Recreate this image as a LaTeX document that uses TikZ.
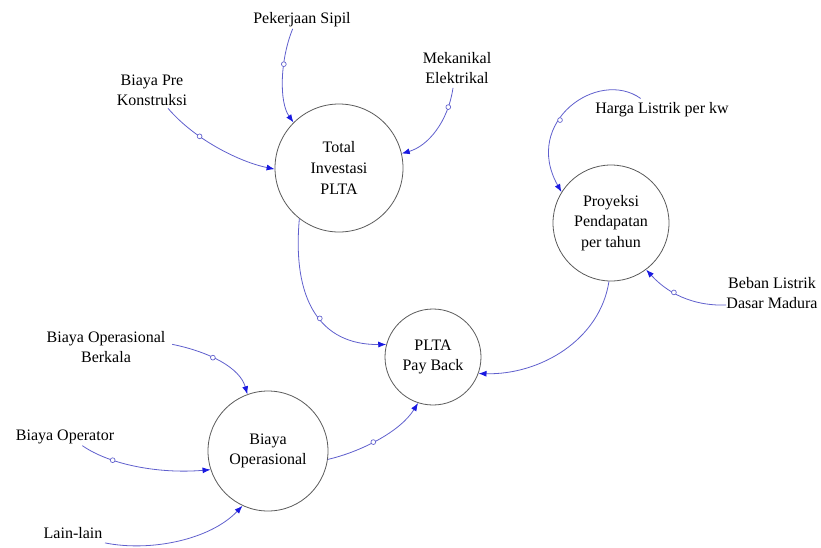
\documentclass[tikz,border=0pt]{standalone}
\usepackage{fontspec}
\setmainfont{Liberation Serif}
\usetikzlibrary{arrows.meta}
\definecolor{lineblue}{RGB}{95,95,205}
\definecolor{tipblue}{RGB}{25,25,225}
\definecolor{ringgray}{RGB}{90,90,90}
\tikzset{
  lbl/.style={align=center,inner sep=0pt,font=\fontsize{12}{15}\selectfont},
  stock/.style={circle,draw=ringgray,line width=0.6pt,inner sep=0pt,align=center,font=\fontsize{12}{15.5}\selectfont},
  link/.style={draw=lineblue,line width=0.6pt,-{Latex[length=6pt,width=4.5pt,color=tipblue]}},
  valve/.style={circle,draw=lineblue,fill=white,line width=0.5pt,inner sep=0pt,minimum size=3.6pt}
}
\begin{document}
\begin{tikzpicture}[x=0.75pt,y=-0.75pt]
\useasboundingbox (0,0) rectangle (821,547);
% stocks
\node[stock,minimum size=96pt] (tot) at (339,168) {Total\\Investasi\\PLTA};
\node[stock,minimum size=87pt] (pro) at (611,223) {Proyeksi\\Pendapatan\\per tahun};
\node[stock,minimum size=72pt] (pb) at (433,357) {PLTA\\Pay Back};
\node[stock,minimum size=90pt] (bo) at (268,451) {Biaya\\Operasional};
% labels
\node[lbl] (pek) at (302,20) {Pekerjaan Sipil};
\node[lbl] (pre) at (152,90) {Biaya Pre\\Konstruksi};
\node[lbl] (mek) at (457,68) {Mekanikal\\Elektrikal};
\node[lbl] (har) at (662,110) {Harga Listrik per kw};
\node[lbl] (beb) at (772,293) {Beban Listrik\\Dasar Madura};
\node[lbl] (bob) at (106,347) {Biaya Operasional\\Berkala};
\node[lbl] (bop) at (65,437) {Biaya Operator};
\node[lbl] (lai) at (73,533) {Lain-lain};
% connectors
\draw[link] ([xshift=-7pt,yshift=-1pt]pek.south) .. controls (280,60) and (279,102) .. node[valve,pos=0.35]{} (tot.135);
\draw[link] ([xshift=12pt,yshift=-2pt]pre.south) .. controls (195,140) and (240,162) .. node[valve,pos=0.33]{} (tot.181);
\draw[link] ([xshift=-3pt,yshift=-3pt]mek.south) .. controls (448,122) and (428,146) .. node[valve,pos=0.2]{} (tot.13);
\draw[link] (tot.-128) .. controls (292,300) and (320,345) .. node[valve,pos=0.55]{} (pb.165);
\draw[link] ([xshift=-16pt,yshift=3pt]har.north) .. controls (598,68) and (522,122) .. node[valve,pos=0.6]{} (pro.148);
\draw[link] ([yshift=-9pt]beb.west) .. controls (700,306) and (672,298) .. node[valve,pos=0.65]{} (pro.-53);
\draw[link] (pro.-92) .. controls (600,340) and (540,375) .. (pb.-20);
\draw[link] ([xshift=5pt,yshift=2pt]bob.east) .. controls (210,352) and (240,368) .. node[valve,pos=0.4]{} (bo.110);
\draw[link] ([xshift=13pt,yshift=-1pt]bop.south) .. controls (110,465) and (160,474) .. node[valve,pos=0.3]{} (bo.-162);
\draw[link] ([xshift=24pt,yshift=-3pt]lai.south) .. controls (150,552) and (210,540) .. (bo.-115);
\draw[link] (bo.-8) .. controls (360,452) and (400,432) .. node[valve,pos=0.45]{} (pb.-108);
\end{tikzpicture}
\end{document}
